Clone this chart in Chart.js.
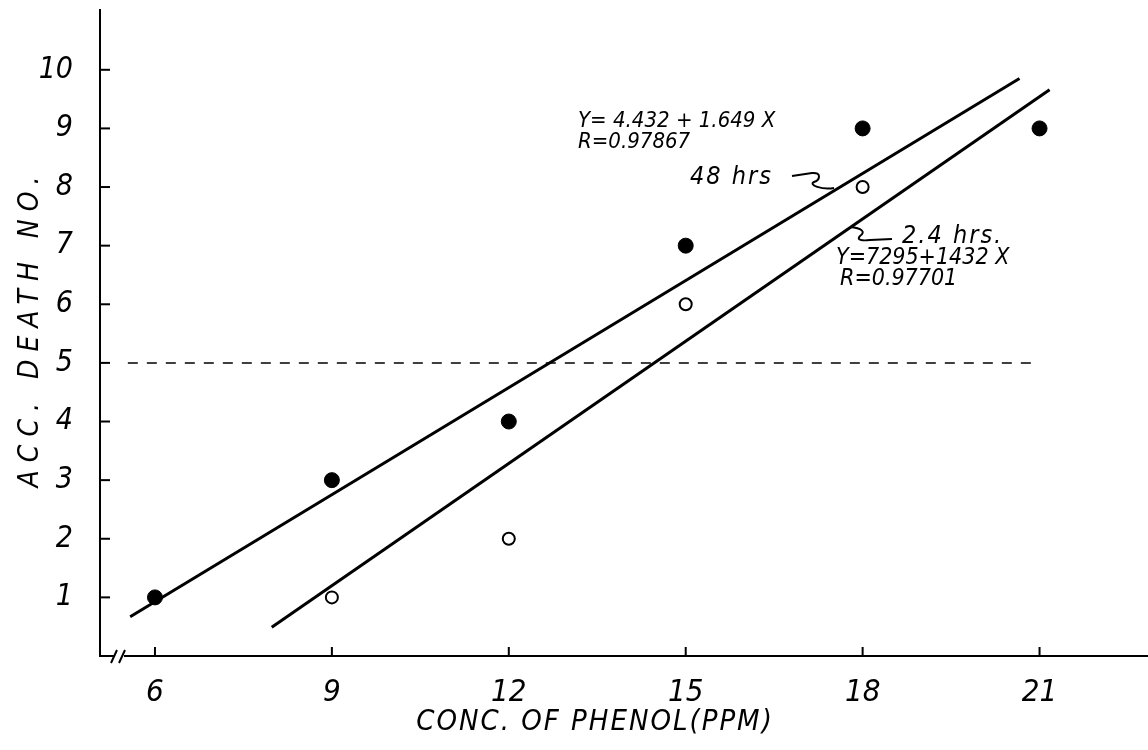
<!DOCTYPE html>
<html>
<head>
<meta charset="utf-8">
<script src="https://cdn.jsdelivr.net/npm/chart.js@4"></script>
<style>
  html, body { margin: 0; padding: 0; background: #fff; }
  #wrap { width: 1148px; height: 750px; }
</style>
</head>
<body>
<div id="wrap"><canvas id="myChart" width="1148" height="750"></canvas></div>
<script>
// ticks
const concTicks = [6, 9, 12, 15, 18, 21]
const deathTicks = [1, 2, 3, 4, 5, 6, 7, 8, 9, 10]

// 48 hrs (filled dots)
const conc48 = [6, 9, 12, 15, 18, 21]
const death48 = [1, 3, 4, 7, 9, 9]
// 24 hrs (open dots)
const conc24 = [9, 12, 15, 18]
const death24 = [1, 2, 6, 8]

// fitted lines, end points as drawn
const fit48X = [5.58, 20.66]
const fit48Y = [0.67, 9.85]
const fit24X = [7.98, 21.17]
const fit24Y = [0.49, 9.66]

// 50% line
const halfX = [5.54, 21.0]
const halfY = [5, 5]

const xTitle = 'CONC. OF PHENOL(PPM)'
const yTitle = 'ACC. DEATH NO.'

const FONT = '"DejaVu Sans Condensed", "Liberation Sans Narrow", "Liberation Sans", sans-serif'

function pts(xs, ys) {
    return xs.map((x, i) => ({ x: x, y: ys[i] }))
}

const extras = {
    id: 'extras',
    afterDraw(chart) {
        const ctx = chart.ctx
        const xs = chart.scales.x
        const ys = chart.scales.y
        const x0 = xs.left
        const y0 = ys.bottom
        ctx.save()
        ctx.strokeStyle = '#000'
        ctx.lineWidth = 2
        // inward tick marks
        deathTicks.forEach(v => {
            const py = ys.getPixelForValue(v)
            ctx.beginPath(); ctx.moveTo(x0, py); ctx.lineTo(x0 + 10, py); ctx.stroke()
        })
        concTicks.forEach(v => {
            const px = xs.getPixelForValue(v)
            ctx.beginPath(); ctx.moveTo(px, y0); ctx.lineTo(px, y0 - 9); ctx.stroke()
        })
        // x axis runs on to the page edge
        ctx.beginPath(); ctx.moveTo(xs.right, y0); ctx.lineTo(chart.width, y0); ctx.stroke()
        // axis break
        ctx.fillStyle = '#fff'
        ctx.fillRect(x0 + 14, y0 - 3, 10, 6)
        ctx.beginPath()
        ctx.moveTo(x0 + 11, y0 + 7); ctx.lineTo(x0 + 17, y0 - 6)
        ctx.moveTo(x0 + 19, y0 + 7); ctx.lineTo(x0 + 25, y0 - 6)
        ctx.stroke()

        ctx.fillStyle = '#000'

        // axis titles
        ctx.textAlign = 'center'
        ctx.textBaseline = 'middle'
        ctx.font = 'italic 29px ' + FONT
        ctx.letterSpacing = '2px'
        ctx.fillText(xTitle, 595, 722)
        ctx.save()
        ctx.translate(31, 328)
        ctx.rotate(-Math.PI / 2)
        ctx.font = 'italic 28px ' + FONT
        ctx.letterSpacing = '8px'
        ctx.fillText(yTitle, 0, 0)
        ctx.restore()

        // labels
        ctx.textAlign = 'left'
        ctx.textBaseline = 'alphabetic'
        ctx.letterSpacing = '0px'
        ctx.font = 'italic 22px ' + FONT
        ctx.fillText('Y= 4.432 + 1.649 X', 578, 127)
        ctx.fillText('R=0.97867', 578, 148)
        ctx.font = 'italic 25px ' + FONT
        ctx.letterSpacing = '2px'
        ctx.fillText('48 hrs', 690, 184)
        ctx.fillText('2.4 hrs.', 902, 243)
        ctx.letterSpacing = '0px'
        ctx.font = 'italic 23px ' + FONT
        ctx.fillText('Y=7295+1432 X', 836, 264)
        ctx.fillText('R=0.97701', 840, 285)

        // leaders
        ctx.lineWidth = 2
        ctx.beginPath()
        ctx.moveTo(792, 176); ctx.lineTo(812, 173)
        ctx.bezierCurveTo(822, 172, 820, 180, 814, 182)
        ctx.bezierCurveTo(808, 185, 822, 190, 834, 188)
        ctx.stroke()
        ctx.beginPath()
        ctx.moveTo(850, 227)
        ctx.bezierCurveTo(862, 228, 866, 232, 860, 236)
        ctx.bezierCurveTo(856, 240, 862, 241, 870, 240)
        ctx.lineTo(892, 239)
        ctx.stroke()
        ctx.restore()
    }
}

new Chart("myChart", {
    type: 'scatter',
    data: {
        datasets: [{
            label: '50%',
            data: pts(halfX, halfY),
            showLine: true,
            borderColor: '#000',
            borderWidth: 1.5,
            borderDash: [10, 9],
            pointRadius: 0
        }, {
            label: 'fit 48',
            data: pts(fit48X, fit48Y),
            showLine: true,
            borderColor: '#000',
            borderWidth: 3,
            pointRadius: 0
        }, {
            label: 'fit 24',
            data: pts(fit24X, fit24Y),
            showLine: true,
            borderColor: '#000',
            borderWidth: 3,
            pointRadius: 0
        }, {
            label: '48 hrs',
            data: pts(conc48, death48),
            backgroundColor: '#000',
            borderColor: '#000',
            pointRadius: 7.5
        }, {
            label: '24 hrs',
            data: pts(conc24, death24),
            backgroundColor: '#fff',
            borderColor: '#000',
            borderWidth: 2,
            pointRadius: 6
        }]
    },
    options: {
        responsive: false,
        animation: false,
        layout: { padding: { top: 10, right: 0, left: 0, bottom: 0 } },
        plugins: {
            legend: { display: false },
            tooltip: { enabled: false }
        },
        scales: {
            x: {
                type: 'linear',
                min: 5.068,
                max: 22.695,
                afterFit: s => {
                    s.height = 94
                    s.paddingLeft = 0
                    s.paddingRight = 0
                },
                afterBuildTicks: s => { s.ticks = concTicks.map(v => ({ value: v })) },
                grid: { display: false },
                border: { display: true, color: '#000', width: 2 },
                ticks: {
                    color: '#000',
                    padding: 10,
                    maxRotation: 0,
                    font: { family: FONT, size: 31, style: 'italic' }
                }
            },
            y: {
                type: 'linear',
                min: 0,
                max: 11.02,
                afterFit: s => {
                    s.width = 100
                    s.paddingTop = 0
                    s.paddingBottom = 0
                },
                afterBuildTicks: s => { s.ticks = deathTicks.map(v => ({ value: v })) },
                grid: { display: false },
                border: { display: true, color: '#000', width: 2 },
                ticks: {
                    color: '#000',
                    padding: 19,
                    font: { family: FONT, size: 30, style: 'italic' }
                }
            }
        }
    },
    plugins: [extras]
})
</script>
</body>
</html>
